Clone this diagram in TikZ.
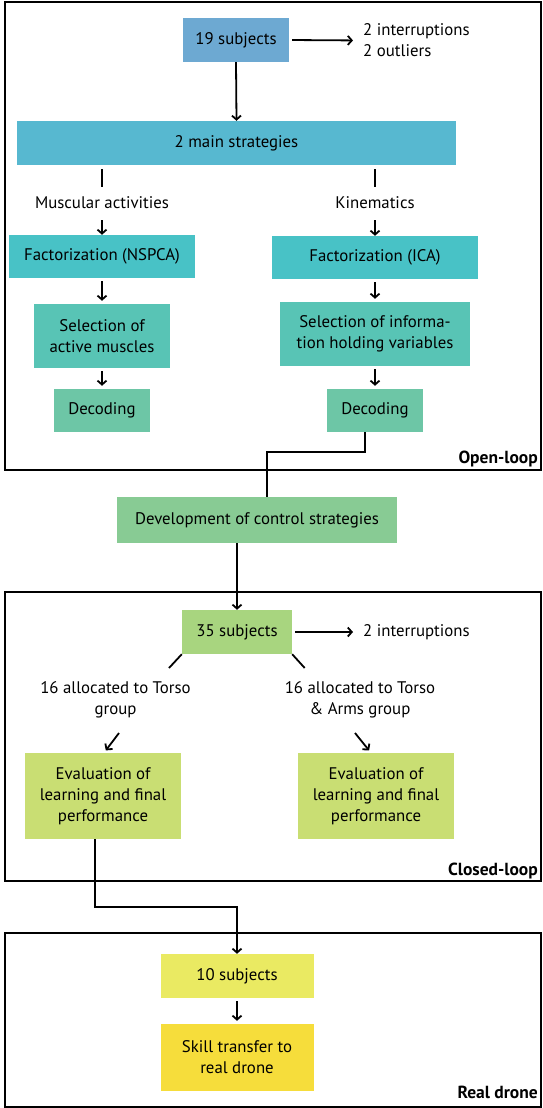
\documentclass[tikz,border=0pt]{standalone}
\usepackage{fontspec}
\setmainfont{PT Sans}
\usetikzlibrary{arrows.meta,positioning,calc}

\definecolor{cSubj}{HTML}{6DA9D2}
\definecolor{cMain}{HTML}{57B8D0}
\definecolor{cFact}{HTML}{48C2C6}
\definecolor{cSel}{HTML}{58C4B5}
\definecolor{cDec}{HTML}{6DC6A6}
\definecolor{cDev}{HTML}{88CB94}
\definecolor{cClosed}{HTML}{A8D57F}
\definecolor{cEval}{HTML}{C9DE73}
\definecolor{cTen}{HTML}{EAEA62}
\definecolor{cSkill}{HTML}{F6DD3B}

\begin{document}
\begin{tikzpicture}[x=1pt, y=-1pt,
        every node/.style={font=\fontsize{16.8}{20.8}\selectfont},
        box/.style={rectangle, fill=#1, align=center, inner sep=0pt},
        lbl/.style={align=center, inner sep=0pt, minimum height=32},
        link/.style={line width=1.8pt},
        arr/.style={link, -{Straight Barb[length=4pt,width=9pt]}, shorten <=3pt, shorten >=3pt},
        frame/.style={line width=2.5pt},
        frametitle/.style={font=\fontsize{17.5}{20}\selectfont\bfseries, anchor=base east, inner sep=0pt}]
        \useasboundingbox (0,0) rectangle (543,1108);

        % Frames
        \draw[frame] (5,2) rectangle (541,470);
        \draw[frame] (5,592) rectangle (541,881);
        \draw[frame] (5,933) rectangle (541,1107);
        \node[frametitle] (openT) at (538,463) {Open-loop};
        \node[frametitle] (closedT) at (538,875) {Closed-loop};
        \node[frametitle] (droneT) at (538,1098) {Real drone};

        % Open-loop nodes
        \node[box=cSubj, minimum width=106, minimum height=44] (s19) at (236,40) {19 subjects};
        \node[align=left, anchor=west, inner sep=0pt] (lost19) at (363,40.5) {2 interruptions\\2 outliers};
        \node[box=cMain, minimum width=439, minimum height=44] (main) at (236.5,143) {2 main strategies};
        \node[lbl] (mus) at (102,203) {Muscular activities};
        \node[lbl] (kin) at (375,203) {Kinematics};
        \node[box=cFact, minimum width=186, minimum height=43] (fnspca) at (102,256.5) {Factorization (NSPCA)};
        \node[box=cFact, minimum width=206, minimum height=43] (fica) at (375,257.5) {Factorization (ICA)};
        \node[box=cSel, minimum width=136, minimum height=64] (selA) at (102,336) {Selection of\\active muscles};
        \node[box=cSel, minimum width=190, minimum height=64] (selB) at (375,334) {Selection of informa-\\tion holding variables};
        \node[box=cDec, minimum width=96, minimum height=43] (decA) at (102,410.5) {Decoding};
        \node[box=cDec, minimum width=96, minimum height=43] (decB) at (375,410.5) {Decoding};

        \node[box=cDev, minimum width=280, minimum height=46] (dev) at (257,520) {Development of control strategies};

        % Closed-loop nodes
        \node[box=cClosed, minimum width=110, minimum height=44] (s35) at (237,632) {35 subjects};
        \node[anchor=west, inner sep=0pt] (lost35) at (363,632) {2 interruptions};
        \node[lbl] (tA) at (115.5,700) {16 allocated to Torso\\group};
        \node[lbl] (tB) at (360,700) {16 allocated to Torso\\\& Arms group};
        \node[box=cEval, minimum width=156, minimum height=86] (evalA) at (103,796) {Evaluation of\\learning and final\\performance};
        \node[box=cEval, minimum width=156, minimum height=86] (evalB) at (376,796) {Evaluation of\\learning and final\\performance};

        % Real drone nodes
        \node[box=cTen, minimum width=153, minimum height=44] (ten) at (237,976) {10 subjects};
        \node[box=cSkill, minimum width=153, minimum height=67] (skill) at (237,1057.5) {Skill transfer to\\real drone};

        \coordinate (splitA) at (169,668);
        \coordinate (splitB) at (304.7,668);
        \coordinate (tailA) at (119,733);
        \coordinate (tailB) at (355,733);

        % Links
        \draw[arr, shorten <=0pt, shorten >=0pt] (s19.south) -- (main.north);
        \draw[arr, shorten >=10pt] (s19.east) -- (lost19.west);
        \draw[link, shorten <=4pt] (main.south -| mus.north) -- (mus.north);
        \draw[link, shorten <=4pt] (main.south -| kin.north) -- (kin.north);
        \draw[arr, shorten <=1pt, shorten >=0pt] (mus) -- (fnspca);
        \draw[arr, shorten <=1pt, shorten >=0pt] (kin) -- (fica);
        \draw[arr] (fnspca) -- (selA);
        \draw[arr] (fica) -- (selB);
        \draw[arr] (selA) -- (decA);
        \draw[arr] (selB) -- (decB);
        \draw[link] ([xshift=-10pt]decB.south) -- ++(0,20) -| ([xshift=10pt]dev.north);
        \draw[arr, shorten <=0pt, shorten >=0pt] (dev.south -| s35.north) -- (s35.north);
        \draw[arr, shorten >=10pt] (s35.east) -- (lost35.west);
        \draw[link] (s35.south west) -- (splitA);
        \draw[link] (s35.south east) -- (splitB);
        \draw[arr, shorten <=0pt] (tailA) -- ([xshift=1pt]evalA.north);
        \draw[arr, shorten <=0pt] (tailB) -- ([xshift=-5pt]evalB.north);
        \draw[arr, shorten <=0pt, shorten >=0pt] ([xshift=-8pt]evalA.south) -- ++(0,68) -| (ten.north);
        \draw[arr] (ten) -- (skill);
    \end{tikzpicture}
\end{document}
